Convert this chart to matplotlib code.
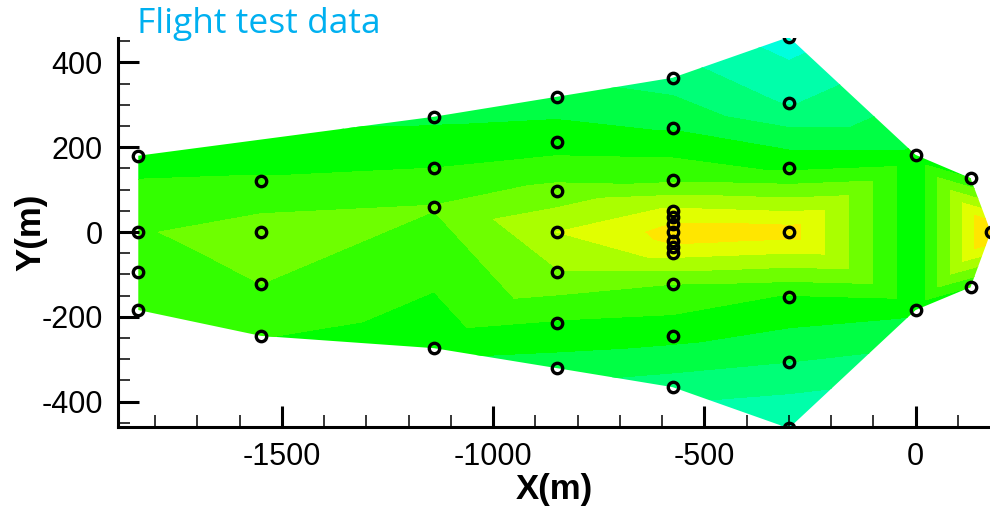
import numpy as np
import matplotlib
matplotlib.use('Agg')
import matplotlib.pyplot as plt
import matplotlib.tri as mtri
from matplotlib.colors import ListedColormap
from matplotlib.patches import Polygon
from matplotlib.ticker import MultipleLocator

plt.rcParams['font.family'] = ['Liberation Sans', 'DejaVu Sans']
plt.rcParams['axes.unicode_minus'] = False

# measurement points (m) and the measured value at each one
x_pts = [-1840, -1840, -1840, -1840,
         -1550, -1550, -1550, -1550,
         -1140, -1140, -1140, -1140,
         -850, -850, -850, -850, -850, -850, -850,
         -575, -575, -575, -575, -575, -575, -575, -575, -575, -575, -575, -575, -575,
         -300, -300, -300, -300, -300, -300, -300,
         0, 0, 130, 130, 178]
y_pts = [180, 0, -94, -184,
         121, 0, -123, -245,
         272, 151, 59, -274,
         319, 212, 97, 0, -94, -215, -321,
         364, 246, 123, 50, 35, 20, 0, -20, -35, -50, -123, -245, -366,
         460, 305, 151, 0, -153, -307, -463,
         182, -184, 127, -130, 0]
z_pts = [4.6, 5.9, 5.5, 5.2,
         5.1, 6.5, 6.0, 5.05,
         3.8, 5.0, 6.05, 4.3,
         3.5, 4.5, 6.3, 8.0, 6.9, 4.9, 3.5,
         2.5, 3.9, 5.8, 8.2, 8.6, 9.0, 9.3, 9.2, 8.8, 8.3, 6.0, 4.3, 2.5,
         0.5, 1.9, 4.8, 9.5, 4.9, 3.0, 0.9,
         4.2, 4.2, 5.0, 5.0, 10.3]

# outline of the measured area (indices into the point lists)
outline = [0, 8, 12, 19, 32, 39, 41, 43, 42, 40, 38, 31, 18, 11, 7, 3]

levels = np.arange(0, 12)
band_colors = ['#00ffdd', '#00ffaa', '#00ff77', '#00ff44', '#00ff00', '#33ff00',
               '#6eff00', '#aaff00', '#e1ff00', '#ffe600', '#ffc800']

fig = plt.figure(figsize=(9.9, 5.12), dpi=100)
ax = fig.add_axes([0.1192, 0.166, 0.8808, 0.76])

tri = mtri.Triangulation(x_pts, y_pts)
cs = ax.tricontourf(tri, z_pts, levels=levels, cmap=ListedColormap(band_colors))
area = Polygon([(x_pts[i], y_pts[i]) for i in outline], closed=True,
               transform=ax.transData, facecolor='none', edgecolor='none')
cs.set_clip_path(area)

ax.plot(x_pts, y_pts, 'o', mfc='none', mec='k', ms=7.5, mew=2.4)

ax.set_xlim(-1888, 176)
ax.set_ylim(-460, 458)

ax.spines['top'].set_visible(False)
ax.spines['right'].set_visible(False)
ax.spines['left'].set_linewidth(2.2)
ax.spines['bottom'].set_linewidth(2.2)

ax.xaxis.set_major_locator(MultipleLocator(500))
ax.xaxis.set_minor_locator(MultipleLocator(100))
ax.yaxis.set_major_locator(MultipleLocator(200))
ax.yaxis.set_minor_locator(MultipleLocator(50))
ax.tick_params(which='major', direction='in', length=15, width=2.2,
               labelsize=22, pad=11)
ax.tick_params(which='minor', direction='in', length=8.5, width=1.1)

ax.set_xlabel('X(m)', fontsize=25, fontweight='bold', va='center')
ax.set_ylabel('Y(m)', fontsize=25, fontweight='bold', va='center')
ax.xaxis.set_label_coords(0.5, -0.16)
ax.yaxis.set_label_coords(-0.1, 0.5)

fig.text(137 / 990, 0.9355, 'Flight test data', color='#00b0f0', fontsize=25.5,
         family=['Open Sans', 'DejaVu Sans'], va='baseline')

plt.savefig('out.png')
